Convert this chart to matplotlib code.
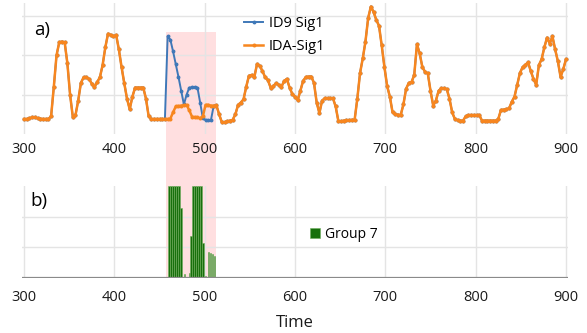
import numpy as np
import matplotlib
matplotlib.use("Agg")
import matplotlib.pyplot as plt
from matplotlib.patches import Rectangle

plt.rcParams['font.family'] = ['Open Sans', 'DejaVu Sans']

# IDA-Sig1 sampled every 3 time units from 300 to 900
time = np.arange(300, 901, 3)
ida_sig1 = [
    0.38, 0.38, 0.40, 0.42, 0.42, 0.40, 0.39, 0.38, 0.38, 0.38,
    0.45, 1.20, 2.00, 2.33, 2.35, 2.33, 1.80, 1.00, 0.44, 0.48,
    0.85, 1.30, 1.44, 1.44, 1.40, 1.28, 1.19, 1.32, 1.44, 1.75,
    2.20, 2.55, 2.52, 2.48, 2.52, 2.15, 1.70, 1.29, 0.90, 0.63,
    0.95, 1.18, 1.18, 1.18, 1.18, 0.90, 0.45, 0.38, 0.38, 0.38,
    0.38, 0.38, 0.38, 0.38, 0.39, 0.55, 0.70, 0.71, 0.72, 0.73,
    0.74, 0.60, 0.44, 0.43, 0.42, 0.40, 0.45, 0.74, 0.74, 0.72,
    0.72, 0.73, 0.50, 0.30, 0.30, 0.32, 0.34, 0.36, 0.50, 0.74,
    0.80, 0.88, 1.20, 1.48, 1.50, 1.45, 1.78, 1.73, 1.60, 1.44,
    1.37, 1.18, 1.22, 1.29, 1.25, 1.20, 1.35, 1.40, 1.18, 1.02,
    0.95, 0.86, 1.10, 1.35, 1.45, 1.46, 1.46, 1.30, 0.80, 0.53,
    0.85, 0.91, 0.91, 0.91, 0.91, 0.70, 0.33, 0.32, 0.34, 0.35,
    0.35, 0.36, 0.36, 0.90, 1.55, 1.92, 2.35, 2.95, 3.24, 3.10,
    2.90, 2.75, 2.25, 1.70, 1.22, 0.95, 0.55, 0.50, 0.49, 0.48,
    0.75, 1.15, 1.30, 1.32, 1.50, 2.28, 2.05, 1.70, 1.58, 1.54,
    1.10, 0.72, 0.85, 1.10, 1.16, 1.16, 1.14, 0.90, 0.55, 0.38,
    0.35, 0.34, 0.34, 0.45, 0.48, 0.48, 0.48, 0.48, 0.48, 0.34,
    0.34, 0.34, 0.34, 0.34, 0.34, 0.38, 0.61, 0.62, 0.63, 0.65,
    0.82, 0.95, 1.25, 1.55, 1.70, 1.76, 1.82, 1.60, 1.40, 1.25,
    1.75, 1.90, 2.20, 2.45, 2.30, 2.48, 2.15, 1.85, 1.45, 1.65,
    1.90,
]

# ID9 Sig1 is identical to IDA-Sig1 except inside the attack window
id9_win_time = [459, 462, 465, 468, 471, 474, 477, 480, 483, 486, 489, 492, 495, 498, 501, 504, 507]
id9_win_vals = [2.48, 2.40, 2.10, 1.78, 1.45, 1.10, 0.75, 1.00, 1.18, 1.19, 1.19, 1.18, 0.80, 0.40, 0.35, 0.35, 0.36]

# Group 7 detections
g7_time = [460.5, 462.7, 464.9, 467.1, 469.3, 471.5, 473.8, 477.7, 482.9, 484.9,
           487.1, 489.3, 491.5, 493.7, 495.9, 498.1, 501.3, 504.3, 506.5, 508.7, 510.9]
g7_vals = [3, 3, 3, 3, 3, 3, 2.28, 0.13, 0.16, 1.35,
           3, 3, 3, 3, 3, 1.14, 0.06, 0.85, 0.81, 0.77, 0.70]

attack_start, attack_end = 456.7, 512.4

ida = np.array(ida_sig1)
id9 = ida.copy()
for t, v in zip(id9_win_time, id9_win_vals):
    id9[time == t] = v

W, H = 587, 333
fig = plt.figure(figsize=(W / 100, H / 100), dpi=100)
grid_c = '#e4e4e4'

ax1 = fig.add_axes([22.2 / W, 1 - 134 / H, 545.6 / W, 131 / H])
ax2 = fig.add_axes([22.2 / W, 1 - 277.5 / H, 545.6 / W, 91.5 / H])

for ax in (ax1, ax2):
    ax.set_facecolor('none')
    ax.set_xlim(298, 902)
    ax.set_xticks(range(300, 901, 100))
    for s in ax.spines.values():
        s.set_visible(False)
    ax.grid(True, color=grid_c, lw=1)
    ax.set_axisbelow(True)
    ax.tick_params(length=0, labelsize=10.5, colors='#1a1a1a')
    ax.tick_params(axis='y', labelleft=False)

# a) signals
ax1.set_ylim(0, 3.33)
ax1.set_yticks([1, 2, 3])
ax1.tick_params(axis='x', pad=5.5)
ax1.plot(time, id9, color='#3f78b8', lw=1.4, marker='o', ms=1.8, label='ID9 Sig1')
ax1.plot(time, ida, color='#f7861f', lw=1.8, marker='o', ms=1.9, label='IDA-Sig1')
ax1.text(34 / W, 1 - 30 / H, 'a)', transform=fig.transFigure, fontsize=13.5, va='center')
ax1.legend(loc='upper left', bbox_to_anchor=(237 / W, 1 - 9 / H), bbox_transform=fig.transFigure,
           frameon=False, fontsize=10.5, borderpad=0, handlelength=1.3, handletextpad=0.4,
           labelspacing=0.55)

# b) group detections
ax2.set_ylim(0, 3)
ax2.set_yticks([0, 1, 2])
ax2.bar(g7_time, g7_vals, width=1.4, color='#17700c', edgecolor='#6fae5c', lw=0.4,
        label='Group 7', zorder=3)
ax2.axhline(0, color='#8a8a8a', lw=1.6, zorder=4)
ax2.tick_params(axis='x', pad=9)
ax2.set_xlabel('Time', fontsize=12, labelpad=7, color='#1a1a1a')
ax2.text(30 / W, 1 - 201 / H, 'b)', transform=fig.transFigure, fontsize=13.5, va='center')
ax2.legend(loc='center left', bbox_to_anchor=(303 / W, 1 - 234 / H), bbox_transform=fig.transFigure,
           frameon=False, fontsize=10, borderpad=0, handlelength=0.7, handleheight=0.7,
           handletextpad=0.4)

# attack window shading spanning both panels
x0 = fig.transFigure.inverted().transform(ax1.transData.transform((attack_start, 0)))[0]
x1 = fig.transFigure.inverted().transform(ax1.transData.transform((attack_end, 0)))[0]
y_top = 1 - 32 / H
y_bot = fig.transFigure.inverted().transform(ax2.transData.transform((0, 0)))[1]
fig.patches.append(Rectangle((x0, y_bot), x1 - x0, y_top - y_bot, transform=fig.transFigure,
                             facecolor='#ffdfe0', edgecolor='none', zorder=-1))

fig.savefig('out.png', dpi=100, facecolor='white')
